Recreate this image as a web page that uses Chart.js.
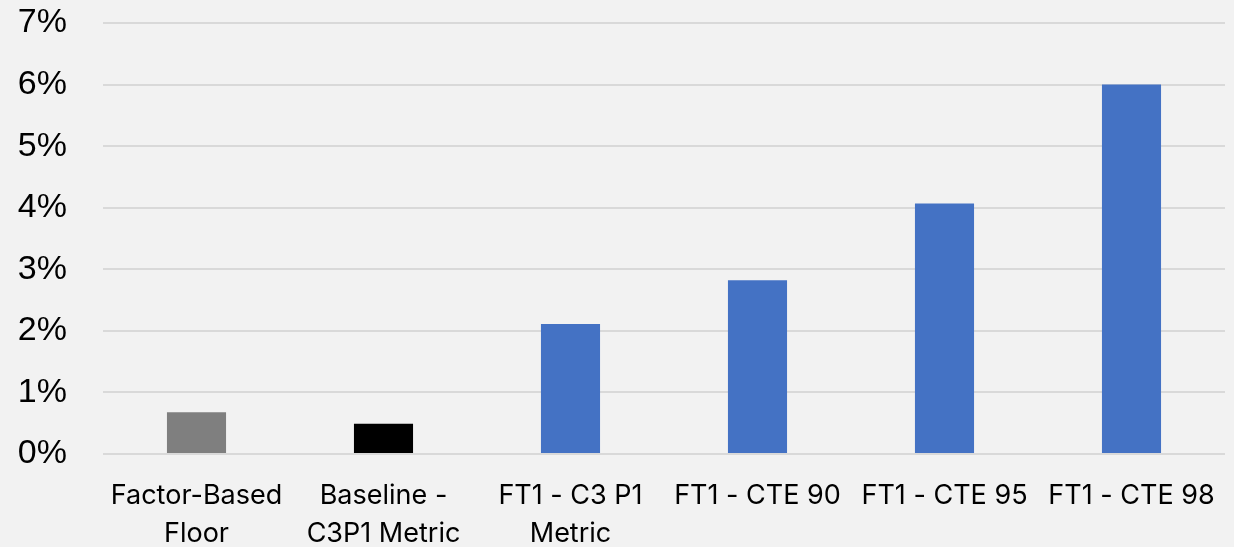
<!DOCTYPE html>
<html>
<head>
<meta charset="utf-8">
<script src="https://cdn.jsdelivr.net/npm/chart.js@4"></script>
<style>
  html, body { margin: 0; padding: 0; background: #f2f2f2; }
  #wrap { width: 1234px; height: 547px; }
</style>
</head>
<body>
<div id="wrap"><canvas id="floorChart"></canvas></div>
<script>
// categories and values (percent)
const categories = [
    ['Factor-Based', 'Floor'],
    ['Baseline -', 'C3P1 Metric'],
    ['FT1 - C3 P1', 'Metric'],
    'FT1 - CTE 90',
    'FT1 - CTE 95',
    'FT1 - CTE 98'
];
const values = [0.68, 0.49, 2.11, 2.82, 4.07, 6.0];
const barColors = ['#7f7f7f', '#000000', '#4472c4', '#4472c4', '#4472c4', '#4472c4'];

new Chart(document.getElementById('floorChart'), {
    type: 'bar',
    data: {
        labels: categories,
        datasets: [{
            data: values,
            backgroundColor: barColors,
            categoryPercentage: 1,
            barPercentage: 0.316
        }]
    },
    options: {
        responsive: true,
        maintainAspectRatio: false,
        animation: false,
        layout: { padding: { top: 23, right: 9, left: 0, bottom: 0 } },
        plugins: {
            legend: { display: false },
            tooltip: { enabled: false }
        },
        scales: {
            y: {
                min: 0,
                max: 7,
                afterFit: axis => {
                    axis.width = 103;
                    axis.paddingTop = 0;
                    axis.paddingBottom = 0;
                },
                border: { display: false },
                grid: { color: '#d9d9d9', lineWidth: 2, drawTicks: false },
                ticks: {
                    stepSize: 1,
                    padding: 36,
                    color: '#000',
                    font: { family: 'Liberation Sans', size: 34 },
                    callback: v => v + '%'
                }
            },
            x: {
                afterFit: axis => { axis.height = 93; },
                border: { display: false },
                grid: { display: false },
                ticks: {
                    autoSkip: false,
                    maxRotation: 0,
                    padding: 15,
                    color: '#000',
                    font: { family: 'Inter', size: 27, lineHeight: 1.4 }
                }
            }
        }
    }
});
</script>
</body>
</html>
